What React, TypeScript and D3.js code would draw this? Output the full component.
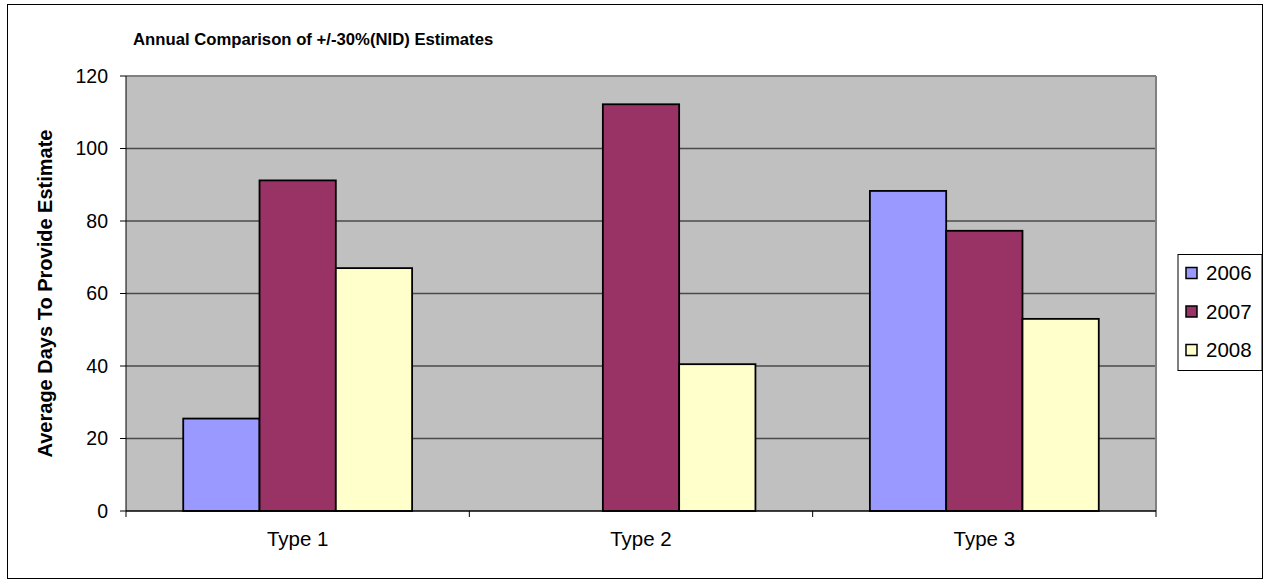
import React from "react";
import * as d3 from "d3";

const categories = ["Type 1", "Type 2", "Type 3"];
const years = ["2006", "2007", "2008"];
const values2006 = [25.5, 0, 88.3];
const values2007 = [91.2, 112.2, 77.3];
const values2008 = [67, 40.5, 53];
const yTicks = [0, 20, 40, 60, 80, 100, 120];
const colors = ["#9999ff", "#993366", "#ffffcc"];

const W = 1267;
const H = 583;
const plot = { left: 126, right: 1156, top: 76, bottom: 511 };

export default function App() {
  const seriesValues = [values2006, values2007, values2008];
  const x0 = d3
    .scaleBand<string>()
    .domain(categories)
    .range([plot.left, plot.right]);
  const bw = x0.bandwidth();
  // three bars per group with a gap of 1.5 bar widths
  const barW = bw / 4.5;
  const groupPad = (bw - barW * 3) / 2;
  const y = d3.scaleLinear().domain([0, 120]).range([plot.bottom, plot.top]);
  const font = "Arial, 'Liberation Sans', sans-serif";

  return (
    <svg
      width={W}
      height={H}
      style={{ position: "absolute", left: 0, top: 0, background: "#fff" }}
      fontFamily={font}
    >
      <rect x={7.5} y={4.5} width={1255} height={574} fill="#fff" stroke="#000" strokeWidth={1} />
      <text x={133} y={45} fontSize={16.7} fontWeight="bold" fill="#000">
        Annual Comparison of +/-30%(NID) Estimates
      </text>

      {/* plot area */}
      <rect
        x={plot.left}
        y={plot.top}
        width={plot.right - plot.left}
        height={plot.bottom - plot.top}
        fill="#c0c0c0"
      />
      {yTicks
        .filter((t) => t > 0 && t < 120)
        .map((t) => (
          <line
            key={`g${t}`}
            x1={plot.left}
            x2={plot.right}
            y1={y(t)}
            y2={y(t)}
            stroke="#4a4a4a"
            strokeWidth={1.5}
          />
        ))}
      <line x1={plot.left} x2={plot.right} y1={plot.top} y2={plot.top} stroke="#808080" strokeWidth={2} />
      <line x1={plot.right} x2={plot.right} y1={plot.top} y2={plot.bottom} stroke="#808080" strokeWidth={2} />

      {/* bars */}
      {seriesValues.map((vals, si) =>
        vals.map((v, ci) =>
          v > 0 ? (
            <rect
              key={`b${si}-${ci}`}
              x={(x0(categories[ci]) as number) + groupPad + si * barW}
              y={y(v)}
              width={barW}
              height={y(0) - y(v)}
              fill={colors[si]}
              stroke="#000"
              strokeWidth={1.8}
            />
          ) : null
        )
      )}

      {/* axes */}
      <line x1={plot.left} x2={plot.left} y1={plot.top} y2={plot.bottom} stroke="#000" strokeWidth={1} />
      <line x1={plot.left} x2={plot.right} y1={plot.bottom} y2={plot.bottom} stroke="#000" strokeWidth={1.5} />
      {yTicks.map((t) => (
        <g key={`t${t}`}>
          <line x1={plot.left - 6} x2={plot.left} y1={y(t)} y2={y(t)} stroke="#000" strokeWidth={1} />
          <text x={108} y={y(t)} dy="0.35em" textAnchor="end" fontSize={19.5} fill="#000">
            {t}
          </text>
        </g>
      ))}
      {[...categories.map((c) => x0(c) as number), plot.right].map((xv, i) => (
        <line key={`xt${i}`} x1={xv} x2={xv} y1={plot.bottom} y2={plot.bottom + 6} stroke="#000" strokeWidth={1} />
      ))}
      {categories.map((c) => (
        <text
          key={`xl${c}`}
          x={(x0(c) as number) + bw / 2}
          y={546}
          textAnchor="middle"
          fontSize={20.5}
          fill="#000"
        >
          {c}
        </text>
      ))}
      <text
        transform={`translate(52, ${(plot.top + plot.bottom) / 2}) rotate(-90)`}
        textAnchor="middle"
        fontSize={20}
        fontWeight="bold"
        fill="#000"
      >
        Average Days To Provide Estimate
      </text>

      {/* legend */}
      <rect x={1178} y={254.5} width={84} height={116} fill="#fff" stroke="#000" strokeWidth={1} />
      {years.map((yr, i) => (
        <g key={`l${yr}`} transform={`translate(0, ${273 + i * 38.5})`}>
          <rect x={1186} y={-5.5} width={11} height={11} fill={colors[i]} stroke="#000" strokeWidth={1.5} />
          <text x={1206} y={0} dy="0.35em" fontSize={20.5} fill="#000">
            {yr}
          </text>
        </g>
      ))}
    </svg>
  );
}
